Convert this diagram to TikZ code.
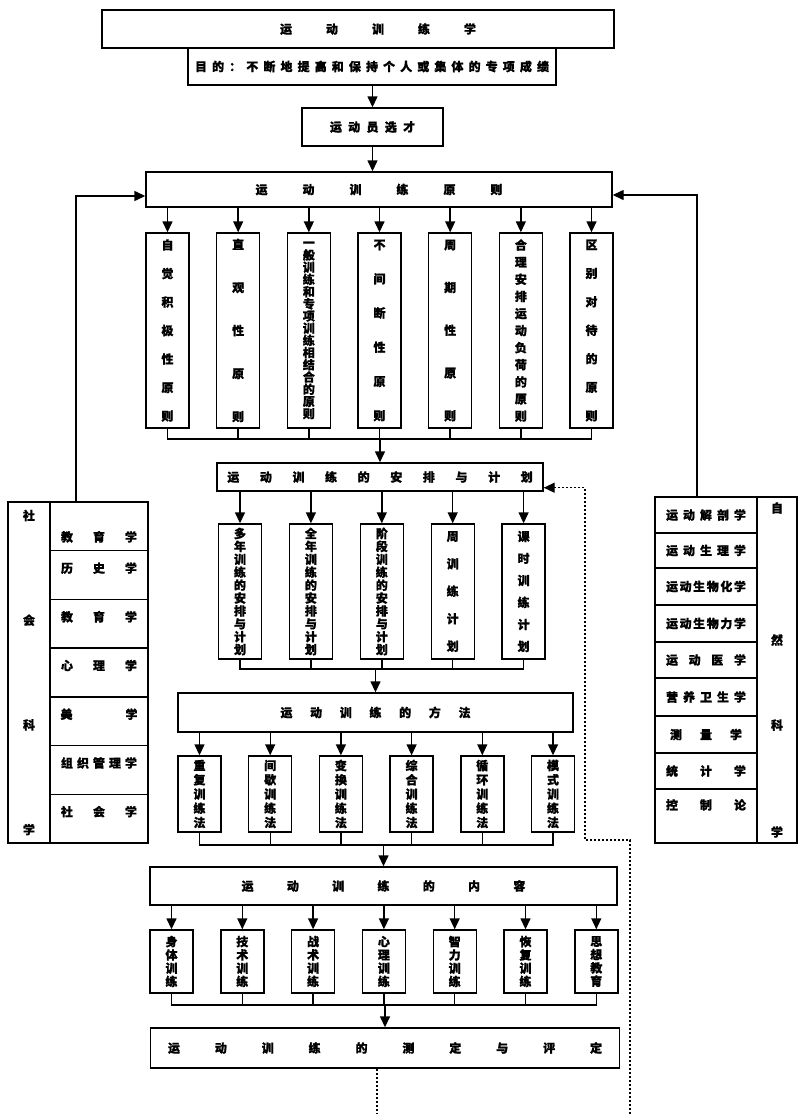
\documentclass[tikz,border=0pt]{standalone}
\usepackage{fontspec}
\newfontfamily\cjk{Noto Sans CJK SC}[BoldFeatures={FakeBold=1}]
\usetikzlibrary{arrows.meta}

% 横排/竖排的等距字
\makeatletter
\def\zh@go{\@tfor\zh@c:=}
\newcommand\hspread[2]{\expandafter\zh@go#2\do{\hbox to #1{\hss\zh@c\hss}}}
\newcommand\vstack[2]{\vbox{\baselineskip=#1\relax\lineskiplimit=-\maxdimen
  \expandafter\zh@go#2\do{\hbox to 1em{\hss\zh@c\hss}}}}
\makeatother

\begin{document}
\begin{tikzpicture}[x=1pt, y=-1pt,
    kuang/.style={draw, line width=1.4pt, inner sep=0pt, font=\cjk\bfseries\fontsize{12}{12}\selectfont},
    shu/.style={kuang, minimum width=43pt},
    zuoge/.style={kuang, minimum width=98pt, text height=22pt, text depth=26.71pt},
    youge/.style={kuang, minimum width=102pt},
    xian/.style={line width=1.4pt},
    jian/.style={xian, -{Triangle[length=11pt, width=10pt]}},
    xuxian/.style={line width=1.3pt, dash pattern=on 2.5pt off 1.5pt}]
    \useasboundingbox (0,0) rectangle (800,1114);

    % 顶部
    \node[kuang, minimum width=512pt, minimum height=38pt] (xue) at (358,29) {\hspace*{40pt}\hspread{46pt}{运动训练学}};
    \node[kuang, minimum width=368pt, minimum height=37pt] (mudi) at (372,66.5) {\hspread{17.1pt}{目的：不断地提高和保持个人或集体的专项成绩}};
    \node[kuang, minimum width=141pt, minimum height=38pt] (xuancai) at (372.5,127) {\hspread{18.3pt}{运动员选才}};
    \node[kuang, minimum width=466pt, minimum height=35pt] (yuanze) at (379,189.5) {\hspread{47pt}{运动训练原则}};
    \draw[jian] (mudi.south -| xuancai.north) -- (xuancai.north);
    \draw[jian] (xuancai.south) -- (xuancai.south |- yuanze.north);

    % 原则
    \foreach \txt/\sk [count=\i] in {自觉积极性原则/28.5pt, 直观性原则/43pt, 一般训练和专项训练相结合的原则/12.2pt, 不间断性原则/34.2pt, 周期性原则/42.75pt, 合理安排运动负荷的原则/17.1pt, 区别对待的原则/28.5pt}
        \node[shu, minimum height=195pt] (p\i) at ({167.5+70.67*(\i-1)},330.5) {\vstack{\sk}{\txt}};
    \foreach \i in {1,...,7} \draw[jian] (p\i.north |- yuanze.south) -- (p\i.north);
    \coordinate (pbus) at (380,439);
    \draw[xian] (p1.south) |- (pbus) -| (p7.south);
    \foreach \i in {2,...,6} \draw[xian] (p\i.south) -- (p\i.south |- pbus);

    % 安排与计划
    \node[kuang, minimum width=326pt, minimum height=28pt] (anpai) at (380,477) {\hspread{32.6pt}{运动训练的安排与计划}};
    \draw[jian] (pbus) -- (anpai.north);
    \foreach \txt/\sk [count=\i] in {多年训练的安排与计划/12.9pt, 全年训练的安排与计划/12.9pt, 阶段训练的安排与计划/12.9pt, 周训练计划/27.5pt, 课时训练计划/22pt}
        \node[shu, minimum height=135pt] (a\i) at ({240+70.9*(\i-1)},591.5) {\vstack{\sk}{\txt}};
    \foreach \i in {1,...,5} \draw[jian] (a\i.north |- anpai.south) -- (a\i.north);
    \coordinate (abus) at (375.5,669);
    \draw[xian] (a1.south) |- (abus) -| (a5.south);
    \foreach \i in {2,3,4} \draw[xian] (a\i.south) -- (a\i.south |- abus);

    % 方法
    \node[kuang, minimum width=395pt, minimum height=39pt] (fangfa) at (375.5,712.5) {\hspread{29.7pt}{运动训练的方法}};
    \draw[jian] (abus) -- (fangfa.north);
    \foreach \txt [count=\i] in {重复训练法, 间歇训练法, 变换训练法, 综合训练法, 循环训练法, 模式训练法}
        \node[shu, minimum height=76pt] (m\i) at ({199.5+70.7*(\i-1)},794) {\vstack{14.25pt}{\txt}};
    \foreach \i in {1,...,6} \draw[jian] (m\i.north |- fangfa.south) -- (m\i.north);
    \coordinate (mbus) at (383.5,845);
    \draw[xian] (m1.south) |- (mbus) -| (m6.south);
    \foreach \i in {2,...,5} \draw[xian] (m\i.south) -- (m\i.south |- mbus);

    % 内容
    \node[kuang, minimum width=467pt, minimum height=38pt] (neirong) at (383.5,886) {\hspread{45.3pt}{运动训练的内容}};
    \draw[jian] (mbus) -- (neirong.north);
    \foreach \txt [count=\i] in {身体训练, 技术训练, 战术训练, 心理训练, 智力训练, 恢复训练, 思想教育}
        \node[shu, minimum height=63pt] (c\i) at ({171.5+70.8*(\i-1)},961.5) {\vstack{13.3pt}{\txt}};
    \foreach \i in {1,...,7} \draw[jian] (c\i.north |- neirong.south) -- (c\i.north);
    \coordinate (cbus) at (385,1005);
    \draw[xian] (c1.south) |- (cbus) -| (c7.south);
    \foreach \i in {2,...,6} \draw[xian] (c\i.south) -- (c\i.south |- cbus);

    % 测定与评定
    \node[kuang, minimum width=468pt, minimum height=40pt] (pingding) at (385,1048) {\hspread{46.9pt}{运动训练的测定与评定}};
    \draw[jian] (cbus) -- (pingding.north);

    % 社会科学
    \node[kuang, minimum width=42pt, minimum height=341pt] (shehui) at (29,672.5) {\vstack{104.7pt}{社会科学}};
    \node[zuoge, text height=39.5pt, text depth=9.21pt] (s1) at (99,526.36) {\hspread{32pt}{教育学}};
    \foreach \txt/\sk [count=\i from 2] in {历史学/32pt, 教育学/32pt, 心理学/32pt, 美/0pt, 组织管理学/16pt, 社会学/32pt}
        \node[zuoge] (s\i) at (99,{502+48.71*(\i-0.5)}) {\ifdim\sk=0pt 美\hspace{53pt}学\else\hspread{\sk}{\txt}\fi};

    % 自然科学
    \node[kuang, minimum width=40pt, minimum height=346pt] (ziran) at (777,670) {\vbox{\hbox{自}\vskip120pt\hbox{然}\vskip73pt\hbox{科}\vskip95pt\hbox{学}}};
    \foreach \txt/\sk/\ya/\yb [count=\i] in {运动解剖学/17pt/497/533, 运动生理学/17pt/533/568, 运动生物化学/13.6pt/568/605, 运动生物力学/13.6pt/605/642, 运动医学/22.7pt/642/678, 营养卫生学/17pt/678/716, 测量学/30pt/716/753, 统计学/34pt/753/789}
        \node[youge, minimum height={\yb-\ya}] (r\i) at (706,{(\ya+\yb)/2}) {\hspread{\sk}{\txt}};
    \node[youge, text height=20.5pt, text depth=33.5pt] (r9) at (706,816) {\hspread{34pt}{控制论}};

    % 两侧回到原则
    \coordinate (lk) at (76,196);
    \draw[jian] (lk |- s1.north) -- (lk) -- (yuanze.west |- lk);
    \coordinate (rk) at (697,195);
    \draw[jian] (rk |- r1.north) -- (rk) -- (yuanze.east |- rk);

    % 虚线反馈
    \coordinate (d1) at (377,1114);
    \draw[xuxian] (d1 |- pingding.south) -- (d1);
    \coordinate (d2) at (630,1114);
    \coordinate (d3) at (585,840);
    \draw[xuxian, -{Triangle[length=11pt, width=10pt]}] (d2) |- (d3) |- ([yshift=4pt]anpai.south east);
\end{tikzpicture}
\end{document}
